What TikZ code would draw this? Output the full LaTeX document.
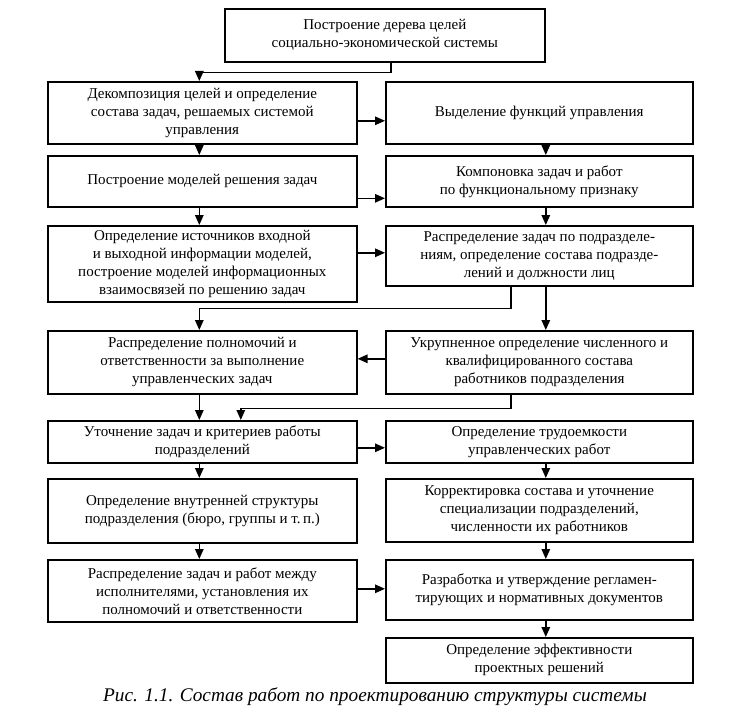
\documentclass[tikz,border=0pt]{standalone}
\usepackage{fontspec}
\setmainfont{Liberation Serif}
\usetikzlibrary{arrows.meta}
\newcommand\bxfont{\fontsize{15bp}{18bp}\selectfont}
\newcommand\capfnt{\fontsize{19.3bp}{22bp}\selectfont\itshape}
\tikzset{
  box/.style={draw, line width=1.6bp, align=center, inner sep=2bp, font=\bxfont, anchor=north west},
  lbox/.style={box, minimum width=309bp},
  rbox/.style={box, minimum width=307bp},
  arr/.style={-{Triangle[length=10bp,width=8.5bp]}, line width=1.4bp},
}
\begin{document}
\begin{tikzpicture}[x={(1bp,0)}, y={(0,-1bp)}]
\useasboundingbox (0,0) rectangle (752,722);
% top
\node[box, minimum width=320bp, minimum height=53bp] (T) at (224,8) {Построение дерева целей\\социально-экономической системы};
% left column
\node[lbox, minimum height=62bp] (L1) at (47,81) {Декомпозиция целей и определение\\состава задач, решаемых системой\\управления};
\node[lbox, minimum height=51bp] (L2) at (47,155) {Построение моделей решения задач};
\node[lbox, minimum height=76bp] (L3) at (47,225) {Определение источников входной\\и выходной информации моделей,\\построение моделей информационных\\взаимосвязей по решению задач};
\node[lbox, minimum height=63bp] (L4) at (47,330) {Распределение полномочий и\\ответственности за выполнение\\управленческих задач};
\node[lbox, minimum height=42bp] (L5) at (47,420) {Уточнение задач и критериев работы\\подразделений};
\node[lbox, minimum height=64bp] (L6) at (47,478) {Определение внутренней структуры\\подразделения (бюро, группы и т.\,п.)};
\node[lbox, minimum height=62bp] (L7) at (47,559) {Распределение задач и работ между\\исполнителями, установления их\\полномочий и ответственности};
% right column
\node[rbox, minimum height=62bp] (R1) at (385,81) {Выделение функций управления};
\node[rbox, minimum height=51bp] (R2) at (385,155) {Компоновка задач и работ\\по функциональному признаку};
\node[rbox, minimum height=60bp] (R3) at (385,225) {Распределение задач по подразделе-\\ниям, определение состава подразде-\\лений и должности лиц};
\node[rbox, minimum height=63bp] (R4) at (385,330) {Укрупненное определение численного и\\квалифицированного состава\\работников подразделения};
\node[rbox, minimum height=42bp] (R5) at (385,420) {Определение трудоемкости\\управленческих работ};
\node[rbox, minimum height=63bp] (R6) at (385,478) {Корректировка состава и уточнение\\специализации подразделений,\\численности их работников};
\node[rbox, minimum height=60bp] (R7) at (385,559) {Разработка и утверждение регламен-\\тирующих и нормативных документов};
\node[rbox, minimum height=45bp] (R8) at (385,637) {Определение эффективности\\проектных решений};
% caption
\node[font=\capfnt, inner sep=0pt] (cap) at (375,697) {Рис. 1.1. Состав работ по проектированию структуры системы};
% connectors
\draw[arr] ([xshift=6bp]T.south) -- ++(0,10) -| ([xshift=-3bp]L1.north);
\foreach \a/\b in {L1/L2, L2/L3, L4/L5, L5/L6, L6/L7}
  \draw[arr] ([xshift=-3bp]\a.south) -- ([xshift=-3bp]\b.north);
\foreach \a/\b in {R1/R2, R2/R3, R3/R4, R5/R6, R6/R7, R7/R8}
  \draw[arr] ([xshift=6.5bp]\a.south) -- ([xshift=6.5bp]\b.north);
\draw[arr] ([yshift=-8bp]L1.east) coordinate (t1) -- (t1 -| R1.west);
\draw[arr] ([yshift=-17bp]L2.east) coordinate (t2) -- (t2 -| R2.west);
\draw[arr] ([yshift=11bp]L3.east) coordinate (t3) -- (t3 -| R3.west);
\draw[arr] ([yshift=3.5bp]R4.west) coordinate (t4) -- (t4 -| L4.east);
\draw[arr] ([yshift=-6bp]L5.east) coordinate (t5) -- (t5 -| R5.west);
\draw[arr] ([yshift=2bp]L7.east) coordinate (t7) -- (t7 -| R7.west);
\draw[arr] ([xshift=-28.5bp]R3.south) -- ++(0,22) -| ([xshift=-3bp]L4.north);
\draw[arr] ([xshift=-28.5bp]R4.south) -- ++(0,14) -| ([xshift=38.5bp]L5.north);
\end{tikzpicture}
\end{document}
